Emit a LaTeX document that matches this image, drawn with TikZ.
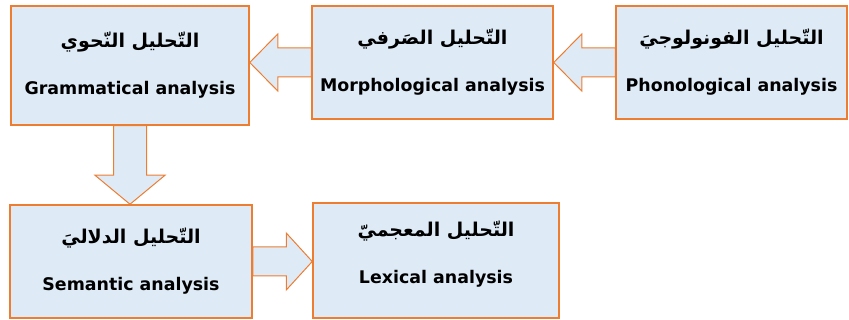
\documentclass[tikz,border=0pt]{standalone}
\usepackage{fontspec}
\setmainfont{DejaVu Sans}
\newfontfamily\arabicfont[Script=Arabic]{DejaVu Sans}
\TeXXeTstate=1
\usetikzlibrary{calc, backgrounds}
\definecolor{mFill}{HTML}{DEEBF7}
\definecolor{mEdge}{HTML}{ED7D31}
\newcommand{\artext}[1]{{\arabicfont\bfseries\fontsize{19}{47}\selectfont\beginR #1\endR}}
% wide arrow: tail, tip, shaft half width, head half width, head length
\newcommand{\blockarrow}[5]{%
  \coordinate (hb) at ($(#2)!#5!(#1)$);
  \draw[barrow] ($(#1)!#3!90:(#2)$) -- ($(hb)!#3!90:(#2)$) -- ($(hb)!#4!90:(#2)$) -- (#2)
    -- ($(hb)!#4!-90:(#2)$) -- ($(hb)!#3!-90:(#2)$) -- ($(#1)!#3!-90:(#2)$) -- cycle;}

\begin{document}
\begin{tikzpicture}[x=1pt, y=-1pt,
  stage/.style={draw=mEdge, fill=mFill, line width=1.5pt, align=center, inner sep=0pt,
                font=\bfseries\fontsize{17.4}{47}\selectfont},
  barrow/.style={draw=mEdge, fill=mFill, line width=1pt, line join=miter}]
  \useasboundingbox (0,0) rectangle (849,320);
  % row 1: sound, word, sentence
  \node[stage, minimum width=238pt, minimum height=119pt] (s1) at (130,65.5)
    {\artext{التّحليل النّحوي}\\ Grammatical analysis};
  \node[stage, minimum width=241pt, minimum height=113pt] (s2) at (432.5,62.5)
    {\artext{التّحليل الصَرفي}\\ Morphological analysis};
  \node[stage, minimum width=231pt, minimum height=113pt] (s3) at (731.5,62.5)
    {\artext{التّحليل الفونولوجيَ}\\ Phonological analysis};
  % row 2: meaning, lexicon
  \node[stage, minimum width=242pt, minimum height=113pt] (s4) at (131,261.5)
    {\artext{التّحليل الدلاليَ}\\ Semantic analysis};
  \node[stage, minimum width=246pt, minimum height=115pt, text depth=16pt] (s5) at (436,260.5)
    {\artext{التّحليل المعجميّ}\\ Lexical analysis};
  % arrow tips
  \coordinate (tA) at (s1.east |- s2.west);
  \coordinate (tB) at (s2.east |- s3.west);
  \coordinate (tC) at (s1.south |- s4.north);
  \coordinate (tD) at (s5.west |- s4.east);
  % wide arrows
  \begin{scope}[on background layer]
    \blockarrow{s3.west}{tB}{14.5pt}{28.5pt}{28pt}
    \blockarrow{s2.west}{tA}{14.5pt}{28.5pt}{28pt}
    \blockarrow{s1.south}{tC}{16.5pt}{35pt}{29pt}
    \blockarrow{s4.east}{tD}{14.5pt}{28.5pt}{26pt}
  \end{scope}
\end{tikzpicture}
\end{document}
